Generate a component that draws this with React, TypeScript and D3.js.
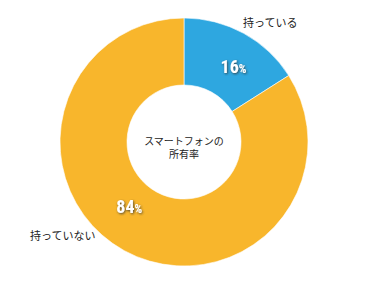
import React from "react";
import * as d3 from "d3";

const categories = ["持っている", "持っていない"];
const values = [16, 84];
const colors = ["#2EA7E0", "#F8B62C"];
const centerLines = ["スマートフォンの", "所有率"];

const W = 365;
const H = 289;
const cx = 184;
const cy = 142;
const outerR = 124;
const innerR = 57;

// label placement (angle in degrees from 12 o'clock, radius)
const pctPlacement = [
  { angle: 33, r: 91 },
  { angle: 220.7, r: 84 },
];
const namePlacement = [
  { x: 243, y: 27 },
  { x: 30, y: 240 },
];

const font = "'Noto Sans CJK JP', 'Noto Sans', sans-serif";

export default function App() {
  const pie = d3.pie<number>().sort(null).value((d) => d);
  const arcs = pie(values);
  const arc = d3.arc<d3.PieArcDatum<number>>().innerRadius(innerR).outerRadius(outerR);

  return (
    <svg width={W} height={H} style={{ position: "absolute", left: 0, top: 0 }}>
      <defs>
        <filter id="sh" x="-30%" y="-30%" width="160%" height="160%">
          <feDropShadow dx="0.8" dy="1" stdDeviation="1.1" floodColor="#333" floodOpacity="0.85" />
        </filter>
      </defs>
      <rect width={W} height={H} fill="#fff" />
      <g transform={`translate(${cx},${cy})`}>
        {arcs.map((a, i) => (
          <path key={i} d={arc(a) || ""} fill={colors[i]} stroke="#fff" strokeWidth={0.6} />
        ))}
        {centerLines.map((l, i) => (
          <text key={i} x={0} y={3 + i * 12.5} textAnchor="middle" fontFamily={font} fontSize={10} fill="#222">
            {l}
          </text>
        ))}
        {values.map((v, i) => {
          const p = pctPlacement[i];
          const rad = (p.angle * Math.PI) / 180;
          const x = p.r * Math.sin(rad);
          const y = -p.r * Math.cos(rad);
          return (
            <text
              key={i}
              x={x}
              y={y + 7}
              textAnchor="middle"
              fontFamily="'Liberation Sans Narrow', 'Roboto Condensed', 'Liberation Sans', sans-serif"
              fontWeight="bold"
              fill="#fff"
              filter="url(#sh)"
            >
              <tspan fontSize={18}>{v}</tspan>
              <tspan fontSize={12}>%</tspan>
            </text>
          );
        })}
      </g>
      {categories.map((c, i) => (
        <text key={i} x={namePlacement[i].x} y={namePlacement[i].y} fontFamily={font} fontSize={11} fill="#222">
          {c}
        </text>
      ))}
    </svg>
  );
}
